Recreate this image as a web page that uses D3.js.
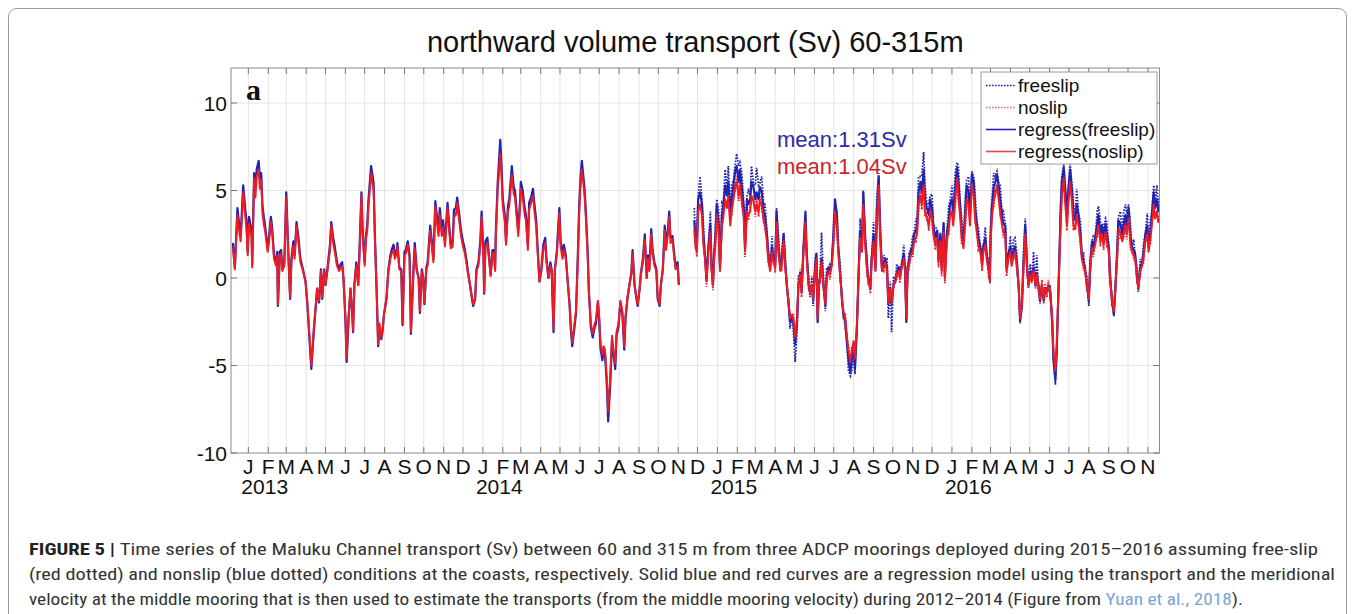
<!DOCTYPE html>
<html><head><meta charset="utf-8">
<script src="https://cdn.jsdelivr.net/npm/d3@7"></script>
<style>body{margin:0;background:#fff}svg{display:block}</style>
</head><body><svg id="c" width="1355" height="614"></svg>
<script>
// ---------- data ----------
const startDate = "2012-12-05";   // day 0 of the record
const endDay = 1445;              // last day shown (2016-11-19)
const yTicks = [-10, -5, 0, 5, 10];
const monthLetters = ["J","F","M","A","M","J","J","A","S","O","N","D"];
const yearLabels = ["2013","2014","2015","2016"];
const legendLabels = ["freeslip","noslip","regress(freeslip)","regress(noslip)"];
const meanLabels = ["mean:1.31Sv","mean:1.04Sv"];
const titleText = "northward volume transport (Sv) 60-315m";
const panelLabel = "a";

// period 1 (2012-12 .. 2014-11): regression estimates only
const days1 = [3,6,10,13,15,19,22,24,26,28,32,33,36,38,40,43,45,47,49,51,53,57,59,62,64,67,70,72,73,76,78,80,83,86,89,92,94,97,99,102,105,108,112,116,119,120,125,129,132,134,137,140,142,145,147,150,154,156,159,161,165,168,171,173,175,178,180,183,186,189,190,192,195,198,200,203,205,208,210,212,214,218,222,224,227,229,231,234,236,238,242,245,248,250,253,255,258,259,262,265,267,270,272,275,278,280,284,286,289,292,294,297,299,301,304,306,310,312,315,318,320,323,325,328,330,333,337,339,342,345,347,350,352,355,358,361,364,367,369,372,375,377,380,382,385,388,390,393,394,396,399,402,404,407,409,411,412,415,419,421,423,426,428,431,433,437,440,442,445,447,450,451,454,457,459,462,464,467,470,472,475,477,480,483,486,489,491,494,497,499,502,504,507,511,513,516,518,521,524,527,529,531,534,537,540,542,544,546,550,552,555,557,560,563,566,568,571,573,575,578,580,582,585,587,590,593,595,598,600,603,606,609,612,614,617,620,623,625,628,631,633,636,638,641,644,647,649,651,654,656,659,662,664,667,669,672,675,677,680,682,684,687,690,692,695,697];
const regN1 = [1.7,0.5,3.6,2.6,2.1,4.9,3.6,2.9,1.3,3.1,2.4,0.6,5.7,4.6,5.8,6.2,5.1,5.6,3.7,3.1,2.7,1.5,2.0,3.2,2.6,1.1,0.7,1.3,-1.5,1.3,1.4,0.4,0.7,4.6,1.5,-1.1,0.9,1.8,1.1,3.0,2.0,0.9,0.4,-0.2,-1.5,-2.1,-5.0,-2.8,-1.5,-0.6,-1.3,0.4,-1.1,0.4,-0.4,0.4,1.6,3.0,2.0,1.6,0.7,0.4,0.6,0.7,0.0,-2.2,-4.6,-2.2,-0.6,-2.2,-3.0,-0.4,0.7,-0.4,1.4,4.7,2.4,0.7,2.2,2.7,4.1,6.0,5.0,2.2,-1.1,-3.8,-2.6,-3.4,-2.9,-2.1,-1.1,0.4,1.1,1.4,1.6,1.1,1.4,1.8,0.5,0.4,-2.6,1.3,1.4,1.9,1.1,-3.1,0.4,1.7,0.4,0.0,-1.9,0.4,0.0,-1.4,0.5,0.7,2.7,2.0,0.9,4.1,3.3,2.4,3.6,2.4,2.9,1.8,4.0,2.9,1.7,1.8,3.5,3.6,4.3,3.3,2.4,1.8,1.4,0.7,0.2,-0.4,-1.1,-1.5,-1.1,0.4,0.7,1.8,3.5,1.1,-0.8,1.8,2.0,0.9,0.1,1.4,1.4,0.4,2.2,5.0,7.1,5.8,4.1,3.3,1.9,3.8,4.1,5.9,4.8,4.6,3.3,2.4,4.1,5.1,4.6,3.6,3.3,1.6,3.9,4.3,4.7,3.9,2.9,1.6,-0.2,0.4,1.6,2.0,0.9,0.0,0.7,0.4,-2.9,0.4,1.3,3.7,1.8,1.1,1.6,1.1,-0.2,-1.5,-2.8,-3.7,-2.8,-1.8,1.4,3.9,5.3,6.2,4.8,3.6,1.4,-0.8,-2.6,-3.2,-2.6,-2.4,-1.3,-2.2,-3.7,-4.4,-3.9,-4.1,-5.8,-7.6,-5.8,-3.3,-4.1,-4.9,-3.1,-2.6,-1.3,-1.9,-3.9,-2.2,-1.1,-0.4,0.2,1.4,-0.4,-1.1,-1.5,-0.6,0.2,0.9,2.2,0.0,1.1,0.4,2.5,1.4,0.7,0.4,-1.1,-1.5,-0.4,0.4,2.7,1.6,2.5,3.5,2.0,2.2,1.1,0.5,0.7,-0.4];
const regF1 = [2.0,0.6,4.0,3.0,2.4,5.3,4.0,3.3,1.5,3.5,2.7,0.8,6.0,5.1,6.2,6.7,5.7,6.0,4.1,3.5,3.0,1.7,2.3,3.5,2.9,1.3,0.9,1.5,-1.6,1.5,1.6,0.5,0.9,4.9,1.7,-1.2,1.1,2.1,1.3,3.2,2.3,1.1,0.5,-0.2,-1.6,-2.2,-5.2,-3.0,-1.6,-0.6,-1.4,0.5,-1.2,0.5,-0.4,0.5,1.9,3.2,2.3,1.9,0.9,0.5,0.8,0.9,0.0,-2.3,-4.8,-2.3,-0.6,-2.3,-3.1,-0.4,0.9,-0.4,1.6,4.9,2.6,0.9,2.4,3.0,4.5,6.4,5.4,2.4,-1.2,-3.9,-2.8,-3.5,-3.0,-2.1,-1.2,0.5,1.3,1.6,1.9,1.3,1.6,2.0,0.6,0.5,-2.7,1.5,1.6,2.1,1.3,-3.2,0.5,2.0,0.5,0.0,-2.0,0.5,0.0,-1.5,0.6,0.9,3.0,2.3,1.1,4.4,3.7,2.7,4.0,2.7,3.3,2.1,4.3,3.3,1.9,2.1,3.9,4.0,4.6,3.7,2.7,2.1,1.6,0.9,0.3,-0.4,-1.2,-1.6,-1.2,0.5,0.9,2.1,3.8,1.3,-0.9,2.1,2.3,1.1,0.2,1.6,1.6,0.5,2.5,5.4,7.9,6.4,4.5,3.6,2.1,4.1,4.5,6.4,5.2,5.0,3.6,2.7,4.5,5.5,5.0,4.0,3.6,1.9,4.3,4.6,5.1,4.3,3.3,1.9,-0.2,0.5,1.9,2.3,1.1,0.0,0.9,0.5,-3.1,0.5,1.5,4.0,2.1,1.3,1.9,1.3,-0.2,-1.6,-3.0,-3.9,-3.0,-2.0,1.6,4.3,5.8,6.7,5.2,4.0,1.6,-0.8,-2.8,-3.4,-2.8,-2.6,-1.4,-2.4,-4.0,-4.7,-4.1,-4.3,-6.2,-8.2,-6.2,-3.6,-4.3,-5.2,-3.3,-2.8,-1.4,-2.0,-4.1,-2.3,-1.2,-0.4,0.3,1.6,-0.4,-1.2,-1.6,-0.6,0.3,1.1,2.5,0.0,1.3,0.5,2.8,1.6,0.9,0.5,-1.2,-1.6,-0.4,0.5,3.0,1.9,2.8,3.8,2.3,2.4,1.3,0.6,0.9,-0.4];

// period 2 (2014-12 .. 2016-11): mooring observations + regression
const days2 = [721,723,725,727,730,733,735,738,740,743,746,748,750,752,754,756,759,761,764,766,769,772,774,777,779,782,785,787,790,792,795,798,800,803,805,808,810,813,816,818,821,823,826,829,831,834,836,839,842,844,847,849,852,855,857,860,862,865,868,870,873,875,878,881,883,886,888,891,894,896,899,901,904,906,909,911,913,915,917,919,922,925,927,930,932,935,938,940,943,945,948,951,953,956,958,961,964,966,969,971,974,977,979,982,984,987,990,992,995,997,1000,1003,1005,1008,1010,1013,1016,1018,1021,1023,1026,1028,1031,1034,1036,1039,1041,1044,1047,1049,1051,1053,1055,1058,1061,1063,1066,1068,1070,1073,1075,1078,1080,1083,1086,1088,1091,1093,1096,1099,1101,1104,1106,1109,1111,1114,1117,1119,1122,1124,1127,1130,1132,1135,1137,1140,1143,1145,1148,1150,1153,1156,1158,1161,1163,1166,1169,1171,1174,1176,1179,1181,1182,1184,1187,1189,1192,1195,1197,1200,1202,1205,1207,1210,1213,1215,1218,1220,1223,1226,1228,1231,1233,1236,1239,1241,1244,1246,1249,1252,1254,1257,1259,1262,1265,1267,1270,1272,1275,1278,1280,1283,1285,1288,1291,1293,1296,1298,1301,1303,1306,1309,1311,1314,1316,1319,1322,1324,1327,1329,1332,1335,1337,1340,1342,1345,1348,1350,1353,1355,1358,1361,1363,1366,1368,1371,1374,1376,1379,1381,1384,1387,1389,1392,1394,1397,1400,1402,1405,1407,1410,1412,1415,1418,1420,1423,1426,1428,1431,1433,1436,1438,1441,1443,1446];
const regN2 = [2.8,1.7,1.5,3.8,4.2,3.6,2.1,0.9,-0.2,1.5,2.6,0.4,-0.4,1.1,2.1,3.6,2.6,0.4,3.0,3.4,4.5,4.0,4.7,3.0,3.8,4.5,5.3,5.5,4.7,5.3,4.4,3.4,1.5,3.8,3.6,3.8,4.7,4.4,3.8,4.2,3.8,4.4,4.2,3.2,3.0,2.1,1.1,0.4,1.5,0.9,0.6,3.2,1.5,0.4,0.7,2.1,0.9,-0.4,-1.5,-2.3,-2.1,-2.3,-3.4,-2.3,-0.4,0.2,-0.8,1.5,3.2,1.1,-0.4,-0.8,-0.4,-1.2,0.4,1.1,-2.3,-0.4,0.0,0.9,-0.4,-1.5,0.0,0.4,0.2,0.7,2.3,3.8,3.0,1.5,0.2,-1.2,-1.9,-2.3,-3.1,-4.2,-4.8,-4.2,-3.6,-4.6,-2.7,0.4,2.3,1.5,4.2,1.9,0.4,-0.2,-0.6,0.9,2.1,0.4,3.2,5.3,2.5,0.4,0.6,0.9,0.4,-1.4,-0.6,-1.4,-0.4,-0.2,0.2,0.4,0.0,0.6,1.1,0.4,-2.3,0.4,0.7,1.3,1.5,2.1,2.3,2.6,4.2,4.7,4.2,5.3,3.8,3.4,3.0,3.8,3.4,2.5,1.9,2.3,0.9,2.1,0.4,2.6,0.0,2.1,2.8,3.6,3.8,3.0,4.4,5.7,4.7,3.4,2.3,1.7,3.4,4.5,4.2,3.0,5.3,4.7,3.4,2.5,1.9,1.5,0.7,1.5,1.9,1.1,0.4,-0.2,1.9,3.4,4.4,4.7,5.3,4.4,3.8,3.0,2.6,2.5,0.4,1.1,1.5,0.7,1.3,1.5,0.7,-0.6,-2.3,-1.4,0.4,2.5,0.4,-0.4,0.2,-0.2,0.4,-0.4,0.2,-0.6,-1.2,-0.4,-1.2,-0.6,-0.8,-0.4,-0.8,-2.3,-4.2,-5.3,-3.8,-0.4,3.0,4.7,5.7,4.4,3.0,4.2,5.5,4.2,3.0,2.8,3.6,3.0,2.1,1.1,0.7,0.4,-0.4,-1.2,0.4,1.7,1.5,1.9,2.6,3.0,2.1,2.5,1.9,2.6,2.1,1.5,0.0,-1.2,-1.9,-0.8,1.1,2.8,2.6,2.1,2.5,3.0,2.5,3.4,1.9,1.5,1.3,1.1,0.0,-0.6,0.4,0.7,1.1,2.1,2.5,1.5,2.3,3.0,4.2,3.4,3.8,3.2,3.4];
const regF2 = [3.3,2.1,1.8,4.5,4.9,4.2,2.5,1.1,-0.1,1.8,3.1,0.6,-0.4,1.4,2.5,4.2,3.1,0.6,3.6,4.0,5.3,4.7,5.5,3.6,4.5,5.3,6.2,6.4,5.5,6.2,5.2,4.0,1.8,4.5,4.2,4.5,5.5,5.2,4.5,4.9,4.5,5.2,4.9,3.8,3.6,2.5,1.4,0.6,1.8,1.1,0.8,3.8,1.8,0.6,0.9,2.5,1.1,-0.4,-1.6,-2.5,-2.3,-2.5,-3.8,-2.5,-0.4,0.3,-0.8,1.8,3.8,1.4,-0.4,-0.8,-0.4,-1.3,0.6,1.4,-2.5,-0.4,0.1,1.1,-0.4,-1.6,0.1,0.6,0.3,0.9,2.7,4.5,3.6,1.8,0.3,-1.3,-2.1,-2.5,-3.5,-4.7,-5.4,-4.7,-4.0,-5.2,-3.0,0.6,2.7,1.8,4.9,2.3,0.6,-0.1,-0.6,1.1,2.5,0.6,3.8,5.8,3.0,0.6,0.8,1.1,0.6,-1.5,-0.6,-1.5,-0.4,-0.1,0.3,0.6,0.1,0.8,1.4,0.6,-2.5,0.6,0.9,1.6,1.8,2.5,2.7,3.1,4.9,5.5,4.9,6.2,4.5,4.0,3.6,4.5,4.0,3.0,2.3,2.7,1.1,2.5,0.6,3.1,0.1,2.5,3.3,4.2,4.5,3.6,5.2,6.3,5.5,4.0,2.7,2.1,4.0,5.3,4.9,3.6,5.9,5.5,4.0,3.0,2.3,1.8,0.9,1.8,2.3,1.4,0.6,-0.1,2.3,4.0,5.2,5.4,5.9,5.2,4.5,3.6,3.1,3.0,0.6,1.4,1.8,0.9,1.6,1.8,0.9,-0.6,-2.5,-1.5,0.6,3.0,0.6,-0.4,0.3,-0.1,0.6,-0.4,0.3,-0.6,-1.3,-0.4,-1.3,-0.6,-0.8,-0.4,-0.8,-2.5,-4.7,-5.8,-4.3,-0.4,3.6,5.5,6.3,5.2,3.6,4.9,6.2,4.9,3.6,3.3,4.2,3.6,2.5,1.4,0.9,0.6,-0.4,-1.3,0.6,2.1,1.8,2.3,3.1,3.6,2.5,3.0,2.3,3.1,2.5,1.8,0.1,-1.3,-2.1,-0.8,1.4,3.3,3.1,2.5,3.0,3.6,3.0,4.0,2.3,1.8,1.6,1.4,0.1,-0.6,0.6,0.9,1.4,2.5,3.0,1.8,2.7,3.6,4.9,4.0,4.5,3.8,4.0];
const free2 = [4.0,2.1,2.4,4.6,5.8,4.4,3.2,1.1,0.3,1.8,3.8,0.4,0.1,1.3,3.2,4.5,3.8,0.4,4.3,4.2,6.2,5.0,6.4,3.7,5.3,5.6,6.6,7.1,6.4,6.6,6.0,4.2,2.4,4.7,5.0,4.7,6.4,5.4,5.3,6.3,5.3,5.4,5.8,4.0,4.3,2.6,1.9,0.4,2.4,1.1,1.3,4.0,2.4,0.4,1.4,2.6,1.7,-0.6,-1.3,-2.9,-2.1,-2.9,-4.8,-2.9,0.1,0.2,-0.4,1.8,3.6,1.3,0.1,-1.1,0.1,-1.6,1.1,1.3,-2.3,-0.6,0.6,2.6,0.1,-1.9,0.6,0.5,0.8,0.8,3.4,4.0,3.8,1.8,0.8,-1.6,-1.8,-2.9,-3.3,-5.3,-5.6,-5.3,-4.0,-5.5,-2.8,0.4,3.4,1.8,5.0,2.3,1.1,-0.3,-0.2,1.1,3.2,0.4,4.6,6.0,3.7,0.4,1.3,1.1,1.1,-2.3,-0.2,-3.1,0.1,-0.3,0.8,0.4,0.6,0.7,1.9,0.4,-2.3,0.4,1.4,1.6,2.4,2.6,3.4,3.2,5.8,5.8,5.8,7.2,5.3,4.2,4.3,4.7,4.8,3.1,2.9,2.8,1.7,2.6,1.1,3.2,0.6,2.6,4.1,4.4,5.3,3.7,6.0,6.6,6.4,4.2,3.4,2.1,4.8,5.6,5.8,3.7,6.1,5.8,4.8,3.1,2.9,1.8,1.4,1.8,2.9,1.3,1.1,-0.3,2.9,4.2,6.0,5.8,6.1,5.4,5.3,3.7,3.8,3.1,1.1,1.3,2.4,0.8,2.2,2.3,1.4,-0.8,-2.3,-1.8,1.1,3.4,1.1,-0.6,0.8,-0.3,1.5,-0.6,1.3,-0.8,-1.0,-0.6,-1.0,-0.8,-0.5,-0.6,-0.5,-2.9,-4.7,-6.1,-4.2,-0.6,4.3,5.8,6.5,5.4,4.3,5.2,6.5,5.2,4.3,3.5,5.1,3.7,3.2,1.3,1.4,0.4,0.1,-1.6,1.1,2.1,2.4,2.3,3.8,4.1,3.2,3.1,2.9,3.4,3.2,1.8,0.6,-1.6,-1.8,-1.1,1.9,3.5,3.8,2.6,3.7,4.2,3.7,4.2,2.9,1.8,2.2,1.3,0.6,-0.8,1.1,0.8,1.9,2.6,3.7,1.8,3.4,3.7,5.3,4.2,5.3,4.0,4.8];
const noslip2 = [2.5,2.0,1.2,4.1,3.9,3.9,1.8,1.2,-0.5,1.8,2.3,0.7,-0.7,1.4,1.8,3.9,2.3,0.7,2.7,3.7,4.2,4.3,4.4,3.3,3.5,4.8,5.0,5.8,4.4,5.6,4.1,3.7,1.2,4.1,3.3,4.1,4.4,4.7,3.5,4.5,3.5,4.7,3.9,3.5,2.7,2.4,0.8,0.7,1.2,1.2,0.3,3.5,1.2,0.7,0.4,2.4,0.6,-0.1,-1.8,-2.0,-2.4,-2.0,-3.7,-2.0,-0.7,0.5,-1.1,1.8,2.9,1.4,-0.7,-0.5,-0.7,-0.9,0.1,1.4,-2.6,-0.1,-0.3,1.2,-0.7,-1.2,-0.3,0.7,-0.1,1.0,2.0,3.9,2.7,1.8,-0.1,-0.9,-2.2,-2.0,-3.4,-3.9,-5.1,-3.9,-3.9,-4.3,-3.0,0.7,2.0,1.8,4.5,2.2,0.1,0.1,-0.9,1.2,1.8,0.7,2.9,5.6,2.2,0.7,0.3,1.2,0.1,-1.1,-0.9,-1.1,-0.7,0.1,-0.1,0.7,-0.3,0.9,0.8,0.7,-2.6,0.7,0.4,1.6,1.2,2.4,2.0,2.9,3.9,5.0,3.9,5.6,3.5,3.7,2.7,4.1,3.1,2.8,1.6,2.6,0.6,2.4,0.1,2.9,-0.3,2.4,2.5,3.9,3.5,3.3,4.1,6.0,4.4,3.7,2.0,2.0,3.1,4.8,3.9,3.3,5.0,5.0,3.1,2.8,1.6,1.8,0.4,1.8,1.6,1.4,0.1,0.1,1.6,3.7,4.1,5.0,5.0,4.7,3.5,3.3,2.3,2.8,0.1,1.4,1.2,1.0,1.0,1.8,0.4,-0.3,-2.6,-1.1,0.1,2.8,0.1,-0.1,-0.1,0.1,0.1,-0.1,-0.1,-0.3,-1.5,-0.1,-1.5,-0.3,-1.1,-0.1,-1.1,-2.0,-4.5,-5.0,-4.1,-0.1,2.7,5.0,5.4,4.7,2.7,4.5,5.2,4.5,2.7,3.1,3.3,3.3,1.8,1.4,0.4,0.7,-0.7,-0.9,0.1,2.0,1.2,2.2,2.3,3.3,1.8,2.8,1.6,2.9,1.8,1.8,-0.3,-0.9,-2.2,-0.5,0.8,3.1,2.3,2.4,2.2,3.3,2.2,3.7,1.6,1.8,1.0,1.4,-0.3,-0.3,0.1,1.0,0.8,2.4,2.2,1.8,2.0,3.3,3.9,3.7,3.5,3.5,3.1];

// ---------- chart ----------
const svg = d3.select("#c");
const plot = {left: 231, right: 1159.5, top: 68, bottom: 453};
const t0 = d3.utcParse("%Y-%m-%d")(startDate);
const dayToDate = d => new Date(t0.getTime() + d * 864e5);
const x = d3.scaleUtc().domain([t0, dayToDate(endDay)]).range([plot.left, plot.right]);
const y = d3.scaleLinear().domain([-10, 12]).range([plot.bottom, plot.top]);

const BLUE = "#2323b0", RED = "#ec1c24";
const FONT = "'Liberation Sans', Arial, Helvetica, sans-serif";

// outer frame
svg.append("rect").attr("x", 8.5).attr("y", 8.5).attr("width", 1338).attr("height", 640)
  .attr("rx", 8).attr("fill", "none").attr("stroke", "#9a9a9a").attr("stroke-width", 1);

// title
svg.append("text").attr("x", (plot.left + plot.right) / 2).attr("y", 52)
  .attr("text-anchor", "middle").attr("font-family", FONT).attr("font-size", 29)
  .attr("fill", "#111").text(titleText);

// grid
const monthTicks = d3.utcMonth.range(d3.utcMonth.ceil(t0), dayToDate(endDay));
const g = svg.append("g");
g.selectAll("line.vg").data(monthTicks).join("line")
  .attr("x1", d => x(d)).attr("x2", d => x(d)).attr("y1", plot.top).attr("y2", plot.bottom)
  .attr("stroke", "#e4e4e4").attr("stroke-width", 1);
g.selectAll("line.hg").data(yTicks.filter(v => v > -10)).join("line")
  .attr("x1", plot.left).attr("x2", plot.right).attr("y1", d => y(d)).attr("y2", d => y(d))
  .attr("stroke", "#e4e4e4").attr("stroke-width", 1);

// clip
svg.append("clipPath").attr("id", "clip").append("rect")
  .attr("x", plot.left).attr("y", plot.top).attr("width", plot.right - plot.left).attr("height", plot.bottom - plot.top);
const lines = svg.append("g").attr("clip-path", "url(#clip)");

function series(days, vals) { return days.map((d, i) => [dayToDate(d), vals[i]]); }
const line = d3.line().x(d => x(d[0])).y(d => y(d[1]));

lines.append("path").datum(series(days2, free2)).attr("d", line)
  .attr("fill", "none").attr("stroke", BLUE).attr("stroke-width", 1.8).attr("stroke-dasharray", "1.6 1.4");
lines.append("path").datum(series(days2, noslip2)).attr("d", line)
  .attr("fill", "none").attr("stroke", RED).attr("stroke-width", 1.8).attr("stroke-dasharray", "1.6 1.4");
[[days1, regF1], [days2, regF2]].forEach(([d, v]) =>
  lines.append("path").datum(series(d, v)).attr("d", line)
    .attr("fill", "none").attr("stroke", BLUE).attr("stroke-width", 2.2).attr("stroke-linejoin", "round"));
[[days1, regN1], [days2, regN2]].forEach(([d, v]) =>
  lines.append("path").datum(series(d, v)).attr("d", line)
    .attr("fill", "none").attr("stroke", RED).attr("stroke-width", 2.0).attr("stroke-linejoin", "round"));

// axes box
svg.append("rect").attr("x", plot.left).attr("y", plot.top)
  .attr("width", plot.right - plot.left).attr("height", plot.bottom - plot.top)
  .attr("fill", "none").attr("stroke", "#8a8a8a").attr("stroke-width", 1);

// ticks (inward, all four sides)
const tk = svg.append("g").attr("stroke", "#777").attr("stroke-width", 1);
monthTicks.forEach(d => {
  tk.append("line").attr("x1", x(d)).attr("x2", x(d)).attr("y1", plot.bottom).attr("y2", plot.bottom - 6);
  tk.append("line").attr("x1", x(d)).attr("x2", x(d)).attr("y1", plot.top).attr("y2", plot.top + 6);
});
yTicks.forEach(v => {
  tk.append("line").attr("x1", plot.left).attr("x2", plot.left + 6).attr("y1", y(v)).attr("y2", y(v));
  tk.append("line").attr("x1", plot.right).attr("x2", plot.right - 6).attr("y1", y(v)).attr("y2", y(v));
});

// x labels
svg.append("g").selectAll("text").data(monthTicks).join("text")
  .attr("x", d => x(d)).attr("y", 474).attr("text-anchor", "middle")
  .attr("font-family", FONT).attr("font-size", 21).attr("fill", "#111")
  .text(d => monthLetters[d.getUTCMonth()]);
const janTicks = monthTicks.filter(d => d.getUTCMonth() === 0);
svg.append("g").selectAll("text").data(janTicks).join("text")
  .attr("x", d => x(d) - 7).attr("y", 494).attr("text-anchor", "start")
  .attr("font-family", FONT).attr("font-size", 21).attr("fill", "#111")
  .text((d, i) => yearLabels[i]);

// y labels
svg.append("g").selectAll("text").data(yTicks).join("text")
  .attr("x", 227).attr("y", d => y(d) + 7.5).attr("text-anchor", "end")
  .attr("font-family", FONT).attr("font-size", 21).attr("fill", "#111")
  .text(d => d);

// panel label
svg.append("text").attr("x", 246).attr("y", 100).attr("font-family", "'Liberation Serif', 'Times New Roman', serif")
  .attr("font-size", 30).attr("font-weight", "bold").attr("fill", "#111").text(panelLabel);

// mean labels
svg.append("text").attr("x", 777).attr("y", 146.5).attr("font-family", FONT).attr("font-size", 22)
  .attr("fill", "#2b2ba8").text(meanLabels[0]);
svg.append("text").attr("x", 777).attr("y", 174).attr("font-family", FONT).attr("font-size", 22)
  .attr("fill", "#c8262a").text(meanLabels[1]);

// legend
const lg = svg.append("g");
lg.append("rect").attr("x", 981).attr("y", 72).attr("width", 176).attr("height", 92)
  .attr("fill", "#fff").attr("stroke", "#9a9a9a").attr("stroke-width", 1);
const legStyles = [
  {c: BLUE, dash: "1.6 1.4", w: 1.4},
  {c: "#e0707a", dash: "1.6 1.4", w: 1.4},
  {c: BLUE, dash: null, w: 1.6},
  {c: "#e0484e", dash: null, w: 1.6}
];
legendLabels.forEach((lab, i) => {
  const cy = 85.5 + i * 22;
  lg.append("line").attr("x1", 986).attr("x2", 1016).attr("y1", cy).attr("y2", cy)
    .attr("stroke", legStyles[i].c).attr("stroke-width", legStyles[i].w)
    .attr("stroke-dasharray", legStyles[i].dash);
  lg.append("text").attr("x", 1018).attr("y", cy + 6.5).attr("font-family", FONT)
    .attr("font-size", 19).attr("fill", "#111").text(lab);
});

// caption
const CAPF = "'Liberation Sans Narrow', 'Arial Narrow', 'Roboto Condensed', 'Liberation Sans', sans-serif";
const cap1 = svg.append("text").attr("x", 29).attr("y", 555).attr("font-family", CAPF)
  .attr("font-size", 17).attr("fill", "#333").attr("textLength", 1289).attr("lengthAdjust", "spacingAndGlyphs");
cap1.append("tspan").attr("font-weight", "bold").attr("fill", "#222").text("FIGURE 5 | ");
cap1.append("tspan").text("Time series of the Maluku Channel transport (Sv) between 60 and 315 m from three ADCP moorings deployed during 2015–2016 assuming free-slip");
svg.append("text").attr("x", 29).attr("y", 580).attr("font-family", CAPF)
  .attr("font-size", 17).attr("fill", "#333").attr("textLength", 1306).attr("lengthAdjust", "spacingAndGlyphs")
  .text("(red dotted) and nonslip (blue dotted) conditions at the coasts, respectively. Solid blue and red curves are a regression model using the transport and the meridional");
const cap3 = svg.append("text").attr("x", 29).attr("y", 605).attr("font-family", CAPF)
  .attr("font-size", 17).attr("fill", "#333").attr("textLength", 1214).attr("lengthAdjust", "spacingAndGlyphs");
cap3.append("tspan").text("velocity at the middle mooring that is then used to estimate the transports (from the middle mooring velocity) during 2012–2014 (Figure from ");
cap3.append("tspan").attr("fill", "#7aa3d6").text("Yuan et al., 2018");
cap3.append("tspan").text(").");
</script>
</body></html>
